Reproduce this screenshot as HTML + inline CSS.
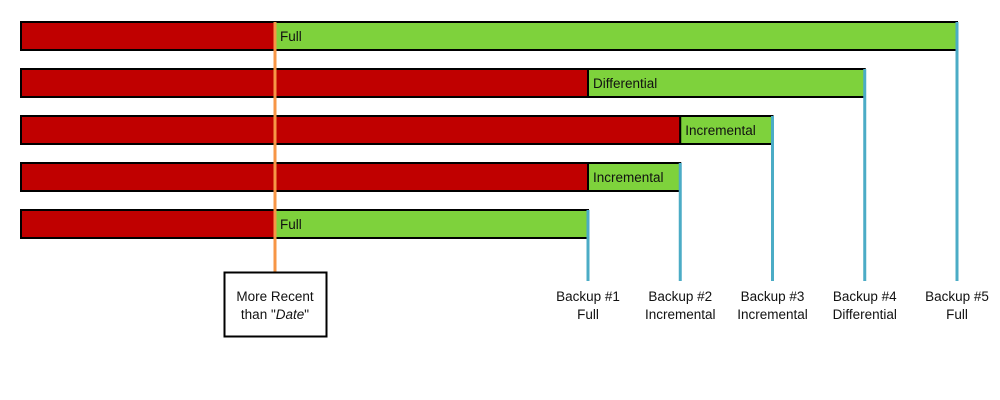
<!DOCTYPE html>
<html><head><meta charset="utf-8"><style>
html,body{margin:0;padding:0;background:#fff;width:1000px;height:400px;overflow:hidden}
svg{display:block;font-family:"Liberation Sans",sans-serif}
</style></head><body>
<svg id="c" width="1000" height="400"></svg>
<script>
const rowTypes=["Full","Differential","Incremental","Incremental","Full"];
const rowStart=[0,1,2,1,0];
const rowEnd=[5,4,3,2,1];
const backupNames=["Backup #1","Backup #2","Backup #3","Backup #4","Backup #5"];
const backupTypes=["Full","Incremental","Incremental","Differential","Full"];
// axis: index 0 = "date" marker, 1..5 = backups
const xs=i=>i===0?275:588+(i-1)*92.25;
const rowY=r=>22+r*47;
const NS="http://www.w3.org/2000/svg";
const svg=document.getElementById('c');
function mk(t,a){const e=document.createElementNS(NS,t);for(const k in a)e.setAttribute(k,a[k]);svg.appendChild(e);return e;}
for(let r=0;r<rowTypes.length;r++){
  const y=rowY(r),h=28;
  const red=mk('rect',{x:21,y:y,width:xs(rowStart[r])-21,height:h,fill:'#c00000',stroke:'#000','stroke-width':2});
  
  
  const g=mk('rect',{x:xs(rowStart[r]),y:y,width:xs(rowEnd[r])-xs(rowStart[r]),height:h,fill:'#7ed23c',stroke:'#000','stroke-width':2});
  
  
  const t=mk('text',{x:xs(rowStart[r])+5,y:y+19,'font-size':13.5,fill:'#111'});
  t.textContent=rowTypes[r];
  
  
}
for(let i=1;i<=5;i++){
  const r=rowEnd.indexOf(i);
  const l=mk('line',{x1:xs(i),x2:xs(i),y1:rowY(r),y2:281,stroke:'#4bacc6','stroke-width':3});
  
  
  const t1=mk('text',{x:xs(i),y:301,'font-size':13.5,'text-anchor':'middle',fill:'#111'});
  t1.textContent=backupNames[i-1];
  
  
  const t2=mk('text',{x:xs(i),y:319,'font-size':13.5,'text-anchor':'middle',fill:'#111'});
  t2.textContent=backupTypes[i-1];
  
  
}
const o=mk('line',{x1:275,x2:275,y1:22,y2:272,stroke:'#f79646','stroke-width':3});


const b=mk('rect',{x:224.5,y:272.5,width:102,height:64,fill:'#fff',stroke:'#000','stroke-width':2});


const bt1=mk('text',{x:275,y:301,'font-size':13.5,'text-anchor':'middle',fill:'#111'});
bt1.textContent='More Recent';


const bt2=mk('text',{x:275,y:319,'font-size':13.5,'text-anchor':'middle',fill:'#111'});
bt2.innerHTML='than "<tspan font-style="italic">Date</tspan>"';


</script>
</body></html>
